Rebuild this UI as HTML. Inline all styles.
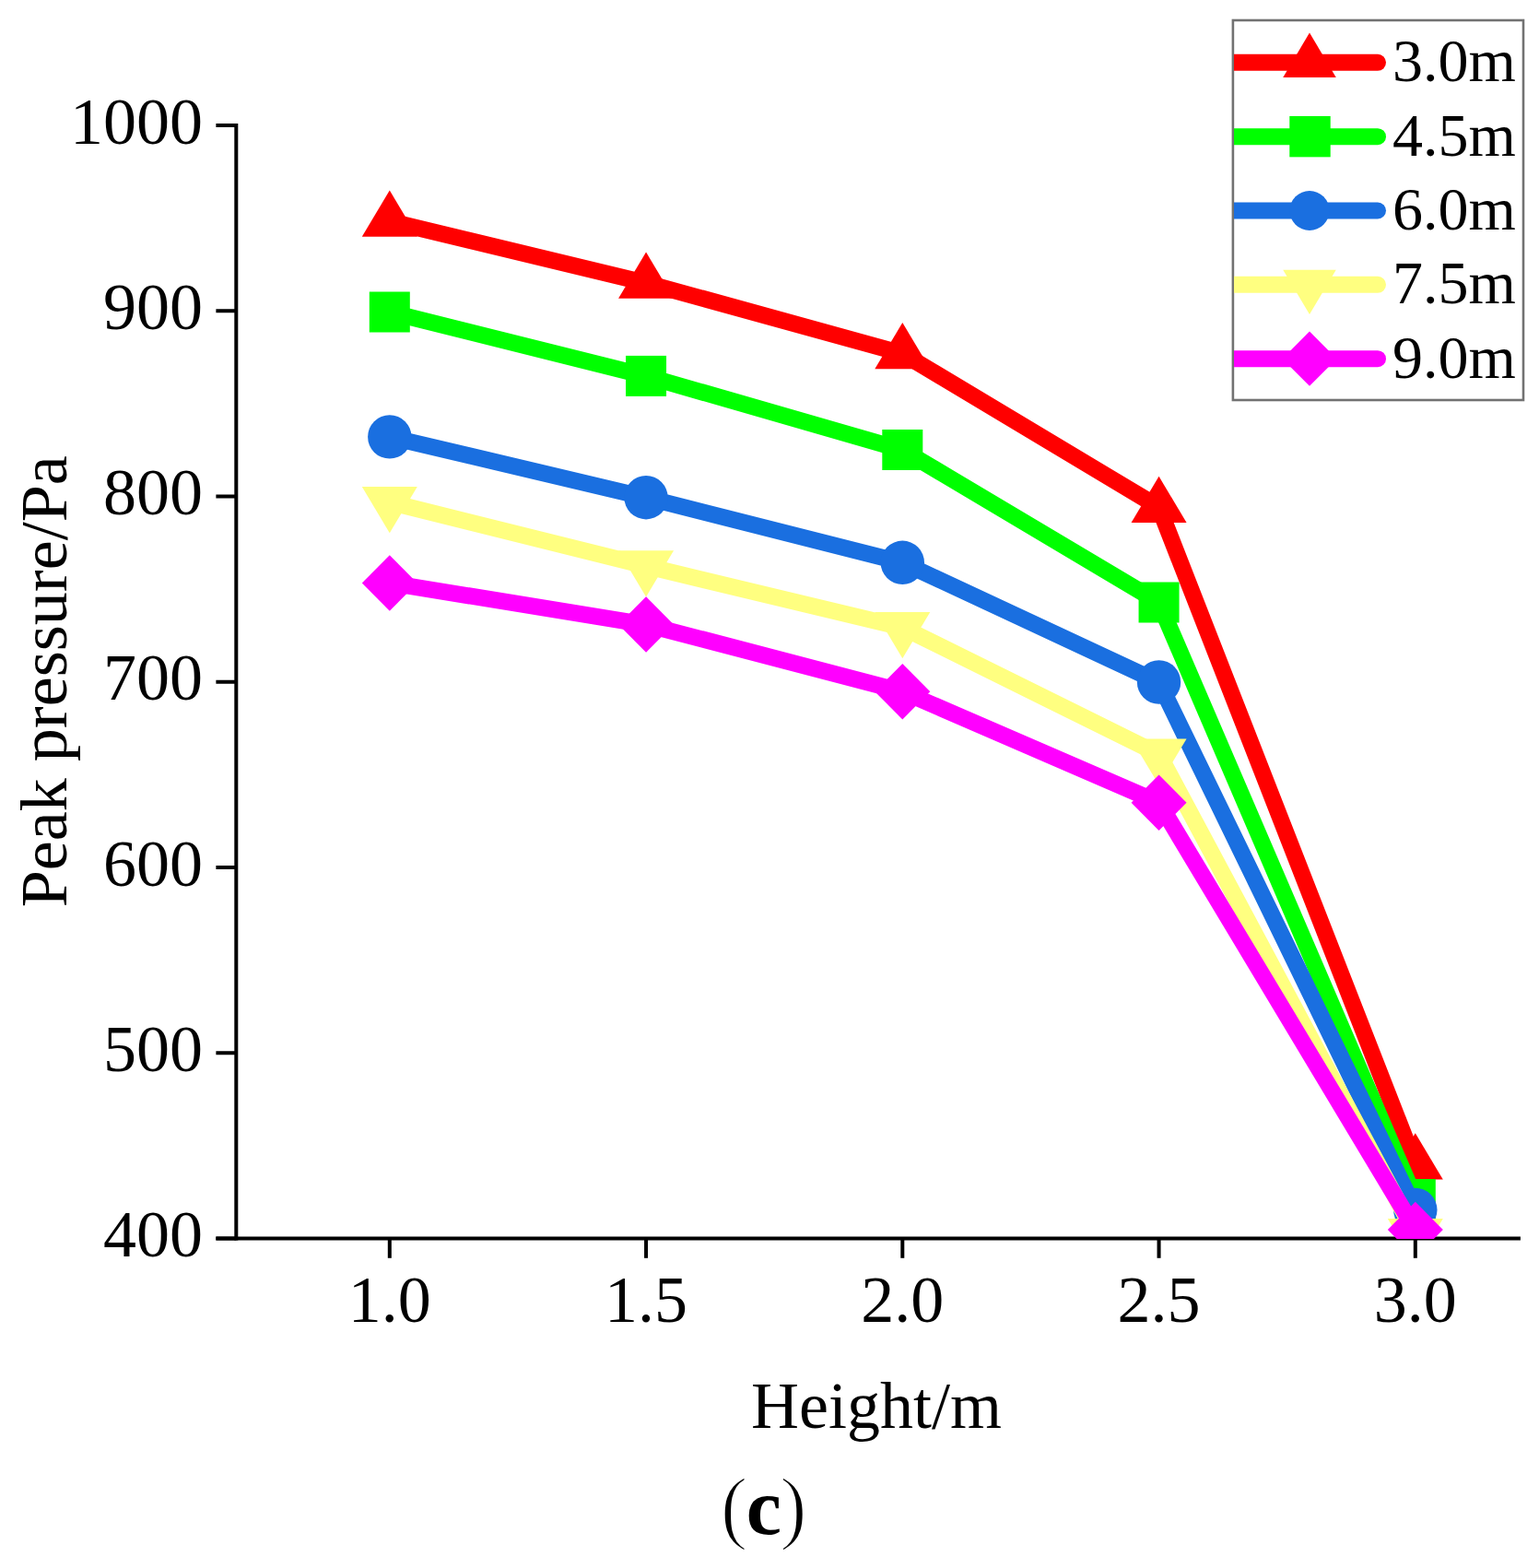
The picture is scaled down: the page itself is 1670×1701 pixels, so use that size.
<!DOCTYPE html>
<html><head><meta charset="utf-8"><style>
html,body{margin:0;padding:0;background:#fff;}
body{width:1670px;height:1701px;overflow:hidden;}
svg{display:block;}
</style></head><body>
<svg width="1670" height="1701" viewBox="0 0 1670 1701">
<defs><clipPath id="pc"><rect x="0" y="0" width="1670" height="1344"/></clipPath></defs>
<g fill="#000"><rect x="254.30" y="134" width="4" height="1211.50"/><rect x="234.4" y="1341.50" width="1415.50" height="4"/><rect x="234.4" y="134.00" width="21.90" height="4"/><rect x="234.4" y="335.25" width="21.90" height="4"/><rect x="234.4" y="536.50" width="21.90" height="4"/><rect x="234.4" y="737.75" width="21.90" height="4"/><rect x="234.4" y="939.00" width="21.90" height="4"/><rect x="234.4" y="1140.25" width="21.90" height="4"/><rect x="234.4" y="1341.50" width="21.90" height="4"/><rect x="420.80" y="1343.50" width="4" height="21.30"/><rect x="699.05" y="1343.50" width="4" height="21.30"/><rect x="977.30" y="1343.50" width="4" height="21.30"/><rect x="1255.55" y="1343.50" width="4" height="21.30"/><rect x="1533.80" y="1343.50" width="4" height="21.30"/></g>
<g clip-path="url(#pc)">
<polyline points="422.80,240.00 701.05,306.90 979.30,383.55 1257.55,550.25 1535.80,1262.80" fill="none" stroke="#FF0000" stroke-width="18" stroke-linejoin="miter" stroke-linecap="butt"/>
<g fill="#FF0000"><polygon points="422.80,206.50 452.80,256.75 392.80,256.75"/><polygon points="701.05,273.40 731.05,323.65 671.05,323.65"/><polygon points="979.30,350.05 1009.30,400.30 949.30,400.30"/><polygon points="1257.55,516.75 1287.55,567.00 1227.55,567.00"/><polygon points="1535.80,1229.30 1565.80,1279.55 1505.80,1279.55"/></g>
<polyline points="422.80,338.50 701.05,407.90 979.30,488.00 1257.55,653.50 1535.80,1301.00" fill="none" stroke="#00FF00" stroke-width="18" stroke-linejoin="miter" stroke-linecap="butt"/>
<g fill="#00FF00"><rect x="400.80" y="316.50" width="44" height="44"/><rect x="679.05" y="385.90" width="44" height="44"/><rect x="957.30" y="466.00" width="44" height="44"/><rect x="1235.55" y="631.50" width="44" height="44"/><rect x="1513.80" y="1279.00" width="44" height="44"/></g>
<polyline points="422.80,473.90 701.05,539.70 979.30,610.30 1257.55,740.00 1535.80,1312.50" fill="none" stroke="#1A6FE0" stroke-width="18" stroke-linejoin="miter" stroke-linecap="butt"/>
<g fill="#1A6FE0"><circle cx="422.80" cy="473.90" r="23.7"/><circle cx="701.05" cy="539.70" r="23.7"/><circle cx="979.30" cy="610.30" r="23.7"/><circle cx="1257.55" cy="740.00" r="23.7"/><circle cx="1535.80" cy="1312.50" r="23.7"/></g>
<polyline points="422.80,544.80 701.05,614.10 979.30,680.70 1257.55,818.20 1535.80,1338.70" fill="none" stroke="#FFFF80" stroke-width="18" stroke-linejoin="miter" stroke-linecap="butt"/>
<g fill="#FFFF80"><polygon points="422.80,578.30 452.80,528.05 392.80,528.05"/><polygon points="701.05,647.60 731.05,597.35 671.05,597.35"/><polygon points="979.30,714.20 1009.30,663.95 949.30,663.95"/><polygon points="1257.55,851.70 1287.55,801.45 1227.55,801.45"/><polygon points="1535.80,1372.20 1565.80,1321.95 1505.80,1321.95"/></g>
<polyline points="422.80,632.40 701.05,677.50 979.30,750.20 1257.55,870.70 1535.80,1334.00" fill="none" stroke="#FF00FF" stroke-width="18" stroke-linejoin="miter" stroke-linecap="butt"/>
<g fill="#FF00FF"><polygon points="422.80,602.15 452.80,632.40 422.80,662.65 392.80,632.40"/><polygon points="701.05,647.25 731.05,677.50 701.05,707.75 671.05,677.50"/><polygon points="979.30,719.95 1009.30,750.20 979.30,780.45 949.30,750.20"/><polygon points="1257.55,840.45 1287.55,870.70 1257.55,900.95 1227.55,870.70"/><polygon points="1535.80,1303.75 1565.80,1334.00 1535.80,1364.25 1505.80,1334.00"/></g>
</g>
<g font-family="Liberation Serif, serif" font-size="72" fill="#000"><text x="220" y="155.70" text-anchor="end">1000</text><text x="220" y="356.95" text-anchor="end">900</text><text x="220" y="558.20" text-anchor="end">800</text><text x="220" y="759.45" text-anchor="end">700</text><text x="220" y="960.70" text-anchor="end">600</text><text x="220" y="1161.95" text-anchor="end">500</text><text x="220" y="1363.20" text-anchor="end">400</text><text x="422.80" y="1433.7" text-anchor="middle">1.0</text><text x="701.05" y="1433.7" text-anchor="middle">1.5</text><text x="979.30" y="1433.7" text-anchor="middle">2.0</text><text x="1257.55" y="1433.7" text-anchor="middle">2.5</text><text x="1535.80" y="1433.7" text-anchor="middle">3.0</text></g>
<text x="951" y="1549.2" text-anchor="middle" font-family="Liberation Serif, serif" font-size="72">Height/m</text>
<text transform="translate(72.2,739.3) rotate(-90)" text-anchor="middle" font-family="Liberation Serif, serif" font-size="72">Peak pressure/Pa</text>
<text y="1663.6" font-family="Liberation Serif, serif" font-size="86"><tspan x="781.85" font-size="89" stroke="#fff" stroke-width="2">(</tspan><tspan x="809.8" font-weight="bold">c</tspan><tspan x="845.95" font-size="89" stroke="#fff" stroke-width="2">)</tspan></text>
<rect x="1337.9" y="22" width="315.1" height="412" fill="none" stroke="#727272" stroke-width="2.6"/><path d="M1339,58.80 H1495 A9,9 0 0 1 1495,76.80 H1339 Z" fill="#FF0000"/><g fill="#FF0000"><polygon points="1421.00,35.53 1449.75,83.93 1392.25,83.93"/></g><text x="1511" y="88.40" font-family="Liberation Serif, serif" font-size="66">3.0m</text><path d="M1339,139.15 H1495 A9,9 0 0 1 1495,157.15 H1339 Z" fill="#00FF00"/><g fill="#00FF00"><rect x="1399.30" y="125.95" width="44.4" height="44.4"/></g><text x="1511" y="168.75" font-family="Liberation Serif, serif" font-size="66">4.5m</text><path d="M1339,219.50 H1495 A9,9 0 0 1 1495,237.50 H1339 Z" fill="#1A6FE0"/><g fill="#1A6FE0"><circle cx="1421.00" cy="228.50" r="21.5"/></g><text x="1511" y="249.10" font-family="Liberation Serif, serif" font-size="66">6.0m</text><path d="M1339,299.85 H1495 A9,9 0 0 1 1495,317.85 H1339 Z" fill="#FFFF80"/><g fill="#FFFF80"><polygon points="1421.00,341.12 1449.75,292.72 1392.25,292.72"/></g><text x="1511" y="329.45" font-family="Liberation Serif, serif" font-size="66">7.5m</text><path d="M1339,380.20 H1495 A9,9 0 0 1 1495,398.20 H1339 Z" fill="#FF00FF"/><g fill="#FF00FF"><polygon points="1421.00,359.60 1450.50,389.20 1421.00,418.80 1391.50,389.20"/></g><text x="1511" y="409.80" font-family="Liberation Serif, serif" font-size="66">9.0m</text>
</svg>
</body></html>
